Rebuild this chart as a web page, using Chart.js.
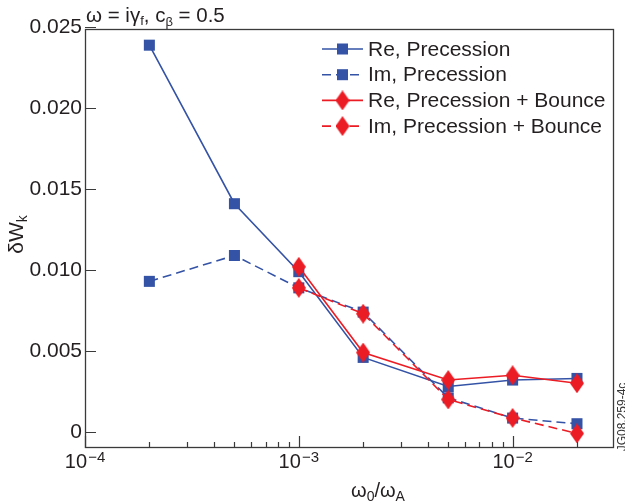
<!DOCTYPE html>
<html>
<head>
<meta charset="utf-8">
<script src="https://cdn.jsdelivr.net/npm/chart.js@4/dist/chart.umd.min.js"></script>
<style>
html, body { margin: 0; padding: 0; background: #fff; }
</style>
</head>
<body>
<canvas id="myChart" width="625" height="501"></canvas>
<script>
// omega0 / omegaA values where each series was computed
const freqPrecession = [2e-4, 5e-4, 1e-3, 2e-3, 5e-3, 1e-2, 2e-2];
const freqBounce = [1e-3, 2e-3, 5e-3, 1e-2, 2e-2];

// delta W_k
const rePrecession = [0.0239, 0.0141, 0.0099, 0.0046, 0.0028, 0.0032, 0.0033];
const imPrecession = [0.0093, 0.0109, 0.0089, 0.0074, 0.0021, 0.00085, 0.0005];
const reBounce = [0.0102, 0.0049, 0.0032, 0.0035, 0.0030];
const imBounce = [0.0089, 0.0073, 0.0020, 0.00086, -0.0001];

const seriesNames = ['Re, Precession', 'Im, Precession', 'Re, Precession + Bounce', 'Im, Precession + Bounce'];

// axis ticks
const yTickValues = [0, 0.005, 0.010, 0.015, 0.020, 0.025];
const xMajorTicks = [1e-4, 1e-3, 1e-2];
const xMajorExponents = ['\u22124', '\u22123', '\u22122'];
const xMinorTicks = [2e-4, 3e-4, 4e-4, 5e-4, 6e-4, 7e-4, 8e-4, 9e-4,
                     2e-3, 3e-3, 4e-3, 5e-3, 6e-3, 7e-3, 8e-3, 9e-3, 2e-2];

const BLUE = '#3453a6';
const RED = '#ec1c24';
const INK = '#231f20';
const FONT = '"Liberation Sans", Arial, sans-serif';

// tall red diamond used as point style
function makeDiamond(w, h, color) {
    const c = document.createElement('canvas');
    c.width = w; c.height = h;
    const g = c.getContext('2d');
    g.fillStyle = color;
    g.beginPath();
    g.moveTo(w / 2, 0);
    g.lineTo(w, h / 2);
    g.lineTo(w / 2, h);
    g.lineTo(0, h / 2);
    g.closePath();
    g.fill();
    return c;
}
const diamond = makeDiamond(14, 20, RED);

// draws a run of [text, size, baselineShift] pieces, returns total width
function drawRich(ctx, parts, x, y, measureOnly) {
    let cx = x;
    parts.forEach(([t, size, dy]) => {
        ctx.font = size + 'px ' + FONT;
        if (!measureOnly) ctx.fillText(t, cx, y + dy);
        cx += ctx.measureText(t).width;
    });
    return cx - x;
}

const decor = {
    id: 'decor',
    afterDraw(chart) {
        const ctx = chart.ctx;
        const a = chart.chartArea;
        const xs = chart.scales.x;
        const ys = chart.scales.y;
        ctx.save();
        ctx.fillStyle = INK;
        ctx.textAlign = 'left';
        ctx.textBaseline = 'alphabetic';

        // frame
        ctx.strokeStyle = '#3a3a3a';
        ctx.lineWidth = 1.3;
        ctx.strokeRect(a.left + 0.5, a.top + 0.5, a.right - a.left - 1, a.bottom - a.top - 1);

        // inward ticks
        ctx.lineWidth = 1.2;
        ctx.beginPath();
        xMajorTicks.forEach(v => {
            const px = Math.round(xs.getPixelForValue(v)) + 0.5;
            ctx.moveTo(px, a.bottom); ctx.lineTo(px, a.bottom - 12);
        });
        xMinorTicks.forEach(v => {
            const px = Math.round(xs.getPixelForValue(v)) + 0.5;
            ctx.moveTo(px, a.bottom); ctx.lineTo(px, a.bottom - 6);
        });
        yTickValues.forEach(v => {
            const py = Math.round(ys.getPixelForValue(v)) + 0.5;
            ctx.moveTo(a.left, py); ctx.lineTo(a.left + 11, py);
        });
        ctx.stroke();

        // x tick labels 10^n
        xMajorTicks.forEach((v, i) => {
            const px = xs.getPixelForValue(v);
            const parts = [['10', 20, 0], [' ', 4, 0], [xMajorExponents[i], 15, -6]];
            const w = drawRich(ctx, parts, 0, 0, true);
            drawRich(ctx, parts, px - w / 2, a.bottom + 20, false);
        });

        // title
        drawRich(ctx, [['\u03c9 = i\u03b3', 20.5, 0], ['f', 13, 3], [', c', 20.5, 0], ['\u03b2', 13, 4], [' = 0.5', 20.5, 0]], a.left + 1, 22, false);

        // x axis title
        const xt = [['\u03c9', 20, 0], ['0', 14, 4], ['/\u03c9', 20, 0], ['A', 14, 4]];
        const xw = drawRich(ctx, xt, 0, 0, true);
        drawRich(ctx, xt, 378 - xw / 2, 497, false);

        // y axis title
        ctx.save();
        ctx.translate(23, (a.top + a.bottom) / 2 - 4);
        ctx.rotate(-Math.PI / 2);
        const yt = [['\u03b4W', 21, 0], ['k', 14, 4]];
        const yw = drawRich(ctx, yt, 0, 0, true);
        drawRich(ctx, yt, -yw / 2, 0, false);
        ctx.restore();

        // figure id
        ctx.save();
        ctx.translate(626, 417);
        ctx.rotate(-Math.PI / 2);
        ctx.font = '12px ' + FONT;
        ctx.fillStyle = '#333';
        ctx.textAlign = 'center';
        ctx.fillText('JG08.259-4c', 0, 0);
        ctx.restore();

        // legend
        const lx = a.left + 237;
        chart.data.datasets.forEach((ds, i) => {
            const cy = a.top + 20 + i * 25.7;
            ctx.strokeStyle = ds.borderColor;
            ctx.lineWidth = ds.borderWidth;
            ctx.setLineDash(ds.borderDash || []);
            ctx.beginPath();
            ctx.moveTo(lx, cy); ctx.lineTo(lx + 41, cy);
            ctx.stroke();
            ctx.setLineDash([]);
            if (ds.pointStyle === 'rect') {
                ctx.fillStyle = ds.pointBackgroundColor;
                ctx.fillRect(lx + 20.5 - 5.5, cy - 5.5, 11, 11);
            } else {
                ctx.drawImage(ds.pointStyle, lx + 20.5 - 7, cy - 10);
            }
            ctx.fillStyle = INK;
            ctx.font = '21px ' + FONT;
            ctx.textBaseline = 'middle';
            ctx.fillText(ds.label, lx + 46, cy + 1);
            ctx.textBaseline = 'alphabetic';
        });
        ctx.restore();
    }
};

const ctx = document.getElementById('myChart').getContext('2d');
const myChart = new Chart(ctx, {
    type: 'line',
    data: {
        datasets: [{
            label: seriesNames[0],
            data: freqPrecession.map((f, i) => ({ x: f, y: rePrecession[i] })),
            borderColor: BLUE, borderWidth: 1.6,
            pointStyle: 'rect', pointRadius: 7.8, pointBorderWidth: 0,
            pointBackgroundColor: BLUE, order: 2
        }, {
            label: seriesNames[1],
            data: freqPrecession.map((f, i) => ({ x: f, y: imPrecession[i] })),
            borderColor: BLUE, borderWidth: 1.6, borderDash: [9, 5],
            pointStyle: 'rect', pointRadius: 7.8, pointBorderWidth: 0,
            pointBackgroundColor: BLUE, order: 3
        }, {
            label: seriesNames[2],
            data: freqBounce.map((f, i) => ({ x: f, y: reBounce[i] })),
            borderColor: RED, borderWidth: 1.6,
            pointStyle: diamond, pointRadius: 10, pointBorderWidth: 0,
            pointBackgroundColor: RED, order: 0
        }, {
            label: seriesNames[3],
            data: freqBounce.map((f, i) => ({ x: f, y: imBounce[i] })),
            borderColor: RED, borderWidth: 1.6, borderDash: [9, 5],
            pointStyle: diamond, pointRadius: 10, pointBorderWidth: 0,
            pointBackgroundColor: RED, order: 1
        }]
    },
    options: {
        responsive: false,
        animation: false,
        events: [],
        layout: { padding: { left: 0, right: 11, top: 29, bottom: 0 } },
        elements: { line: { tension: 0, fill: false } },
        plugins: { legend: { display: false }, tooltip: { enabled: false } },
        scales: {
            x: {
                type: 'logarithmic',
                min: 1e-4,
                max: 0.0298,
                grid: { display: false, drawTicks: false },
                border: { display: false },
                ticks: { display: false },
                afterFit: s => { s.height = 53; }
            },
            y: {
                type: 'linear',
                min: -0.001,
                max: 0.0249,
                grid: { display: false, drawTicks: false },
                border: { display: false },
                afterBuildTicks: s => { s.ticks = yTickValues.map(v => ({ value: v })); },
                ticks: {
                    padding: 3,
                    color: INK,
                    font: { family: FONT, size: 21 },
                    callback: v => (v === 0 ? '0' : v.toFixed(3))
                },
                afterFit: s => { s.width = 85; }
            }
        }
    },
    plugins: [decor]
});
</script>
</body>
</html>
